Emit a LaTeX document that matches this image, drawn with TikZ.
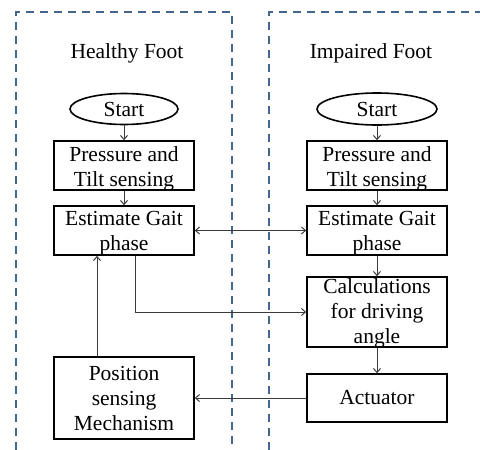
\documentclass[tikz,border=0pt]{standalone}
\usepackage{fontspec}
\setmainfont{Liberation Serif}
\usetikzlibrary{arrows.meta,shapes.geometric}
\definecolor{dashblue}{HTML}{44668F}
\definecolor{lineg}{HTML}{3A3A3A}
\tikzset{
  region/.style={draw=dashblue,line width=1.5pt,dash pattern=on 8pt off 6pt},
  box/.style={draw=black,line width=1.6pt,rectangle,minimum width=140pt,inner sep=0pt},
  txt/.style={inner sep=0pt,align=center,font=\fontsize{21.5}{25}\selectfont},
  oval/.style={draw=black,line width=1.6pt,ellipse,inner sep=0pt,font=\fontsize{21.5}{25}\selectfont},
  title/.style={font=\fontsize{21.5}{25}\selectfont},
  arr/.style={draw=lineg,line width=1pt,-{Straight Barb[length=4pt,width=7pt]}},
  darr/.style={draw=lineg,line width=1pt,{Straight Barb[length=4pt,width=7pt]}-{Straight Barb[length=4pt,width=7pt]}}
}
\begin{document}
\begin{tikzpicture}[x=1pt,y=-1pt]
\useasboundingbox (0,0) rectangle (480,450);
\draw[region] (16,450) -- (16,12) -- (232,12) -- (232,450);
\draw[region] (269,450) -- (269,12) -- (480,12);
\node[title] (tl) at (127,53) {Healthy Foot};
\node[title] (tr) at (371,53) {Impaired Foot};
\node[oval,minimum width=108pt,minimum height=31pt] (startL) at (124,109) {Start};
\node[oval,minimum width=120pt,minimum height=32pt] (startR) at (377,109) {Start};
\node[box,minimum height=49pt] (pressL) at (124,165.5) {};
\node[txt,yshift=-3.5pt] (pressLt) at (pressL) {Pressure and\\Tilt sensing};
\node[box,minimum height=49pt] (pressR) at (377,165.5) {};
\node[txt,yshift=-3.5pt] (pressRt) at (pressR) {Pressure and\\Tilt sensing};
\node[box,minimum height=49pt] (estL) at (124,230.5) {};
\node[txt,yshift=-2.5pt] (estLt) at (estL) {Estimate Gait\\phase};
\node[box,minimum height=49pt] (estR) at (377,230.5) {};
\node[txt,yshift=-2.5pt] (estRt) at (estR) {Estimate Gait\\phase};
\node[box,minimum height=70pt] (calc) at (377,312) {};
\node[txt,yshift=-1pt] (calct) at (calc) {Calculations\\for driving\\angle};
\node[box,minimum height=48pt] (act) at (377,398) {};
\node[txt] (actt) at (act) {Actuator};
\node[box,minimum height=82pt] (pos) at (124,398) {};
\node[txt] (post) at (pos) {Position\\sensing\\Mechanism};
\draw[arr] (startL) -- (pressL);
\draw[arr] (pressL) -- (estL);
\draw[arr] (startR) -- (pressR);
\draw[arr] (pressR) -- (estR);
\draw[darr] (estL.east) -- (estR.west);
\draw[arr] (estR) -- (calc);
\draw[arr] (calc) -- (act);
\draw[arr] (act.west) -- (pos.east);
\draw[arr] ([xshift=-27pt]pos.north) -- ([xshift=-27pt]estL.south);
\draw[arr] ([xshift=11pt]estL.south) |- (calc.west);
\end{tikzpicture}
\end{document}
